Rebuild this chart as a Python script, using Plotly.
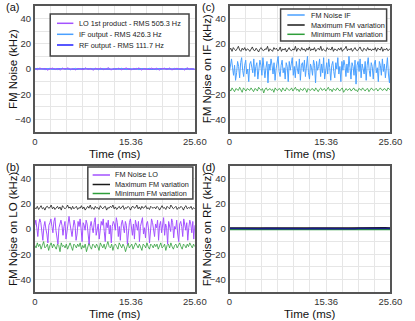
import plotly.graph_objects as go

# ---------------- data ----------------
N = 160
t_ms = [i * 25.6 / (N - 1) for i in range(N)]
t128 = [i * 25.6 / 127 for i in range(128)]
t64 = [i * 25.6 / 63 for i in range(64)]
t32 = [i * 25.6 / 31 for i in range(32)]

# (a) FM noise (kHz)
a_lo = [0.5, -0.6, 0.8, -0.2, 0.4, -0.9, 0.1, 0.7, -0.5, 0.3, -0.8, 0.6, -0.1, 0.9, -0.4, 0.2,
        -0.7, 0.5, 0.0, -0.6, 0.8, -0.3, 0.4, -0.9, 0.6, -0.2, 0.7, -0.5, 0.1, 0.9, -0.8, 0.3,
        -0.4, 0.6, -0.7, 0.2, 0.8, -0.1, -0.6, 0.5, -0.3, 0.9, -0.8, 0.4, 0.1, -0.5, 0.7, -0.2,
        0.6, -0.9, 0.3, 0.5, -0.4, 0.8, -0.7, 0.0, 0.6, -0.3, 0.4, -0.8, 0.9, -0.1, 0.2, -0.5]
a_if = [-0.3, 0.5, -0.1, 0.4, -0.6, 0.2, 0.6, -0.4, 0.1, -0.5, 0.3, 0.6, -0.2, 0.4, -0.6, 0.0,
        0.5, -0.3, 0.2, -0.5, 0.6, -0.1, 0.3, -0.4, 0.5, -0.6, 0.1, 0.4, -0.2, 0.6, -0.5, 0.2,
        0.3, -0.4, 0.6, -0.1, -0.5, 0.4, 0.0, -0.3, 0.5, -0.6, 0.2, 0.3, -0.4, 0.6, -0.2, 0.1,
        -0.5, 0.4, -0.3, 0.6, -0.1, 0.2, -0.6, 0.5, -0.2, 0.3, -0.4, 0.1, 0.6, -0.5, 0.2, -0.3]
a_rf = [0.1, -0.05, 0.12, -0.1, 0.03, 0.14, -0.08, 0.06, -0.12, 0.09, -0.02, 0.11, -0.14, 0.05, 0.08, -0.06,
        0.13, -0.1, 0.02, -0.09, 0.12, -0.04, 0.07, -0.13, 0.1, -0.03, 0.06, -0.11, 0.14, -0.07, 0.04, -0.08]

# (b) FM noise on LO (kHz)
b_lo = [3, 7, 1, -6, 4, 8, 5, -2, -9, 2, 6, 0, -4, -11, 3, 5,
        8, 2, -3, 6, 9, -1, -7, -12, 1, 4, 7, 3, -5, 2, 6, -8,
        -3, 5, 10, 4, -2, -6, 1, 7, 3, -9, -4, 6, 2, 8, 0, -10,
        5, 3, -1, 7, 4, -7, -12, 2, 6, 1, -3, 5, 9, -5, 2, 4,
        -8, 0, 6, 3, 8, -2, -10, 5, 1, 7, -4, 3, -11, 2, 6, 4,
        -1, 9, 5, -6, 2, -9, 4, 7, 0, -3, 6, 3, -12, 1, 5, 8,
        2, -5, 4, -8, 7, 3, -1, 6, -10, 2, 5, 9, -4, 1, -7, 4,
        6, 0, -11, 3, 8, 5, -2, -6, 4, 1, 7, -9, 3, 6, -3, 2,
        9, -5, 4, 1, -12, 6, 3, -2, 8, 5, -7, 2, 0, 7, -4, -10,
        4, 6, 2, -6, 8, 3, -1, 5, -9, 1, 7, 4, -3, 6, -8, 3]
b_max = [17, 16, 18, 15.5, 17, 18.5, 16, 17, 15, 17.5, 18, 16.5, 17, 19, 16, 17.5,
         15.5, 17, 18, 16, 17.5, 15, 18.5, 17, 16, 17, 19, 16.5, 17.5, 15.5, 18, 16,
         17, 18, 15.5, 17, 16.5, 18.5, 16, 17.5, 15, 17, 18, 16.5, 19, 16, 17, 15.5,
         18, 16.5, 17, 15.5, 18.5, 17, 16, 17.5, 18, 15, 17, 16.5, 18, 17, 19, 16,
         17.5, 15.5, 17, 18, 16, 17, 18.5, 15.5, 17, 16.5, 18, 17, 15, 17.5, 18, 16.5,
         17, 19, 16, 17.5, 15.5, 18, 16.5, 17, 18.5, 16, 17, 15.5, 18, 17, 16.5, 17.5,
         16, 18, 17, 15, 17.5, 18.5, 16.5, 17, 15.5, 18, 17, 16, 19, 17.5, 16, 17,
         18, 15.5, 17, 16.5, 18, 17, 15, 17.5, 18.5, 16, 17, 16.5, 18, 15.5, 17, 16]
b_min = [-13, -15, -11, -14, -12, -16, -13, -10, -15, -14, -12, -17, -13, -11, -15, -12,
         -14, -16, -12, -13, -18, -11, -14, -13, -15, -12, -16, -13, -11, -14, -17, -12,
         -13, -15, -12, -14, -11, -16, -13, -15, -12, -18, -13, -11, -14, -16, -12, -13,
         -15, -12, -14, -17, -11, -13, -15, -12, -16, -13, -10, -14, -15, -12, -17, -13,
         -12, -14, -16, -11, -13, -15, -12, -14, -18, -13, -11, -15, -13, -12, -16, -14,
         -11, -13, -15, -12, -14, -17, -12, -13, -15, -11, -14, -16, -12, -13, -15, -12,
         -14, -12, -16, -13, -11, -15, -14, -12, -17, -13, -12, -15, -11, -14, -16, -13,
         -12, -15, -13, -11, -14, -16, -12, -13, -15, -12, -14, -11, -13, -15, -12, -14]

# (c) FM noise on IF (kHz)
c_if = [-2, 4, 8, 1, -5, 3, -9, -3, 6, 2, -7, 5, 9, -1, -6, 3,
        7, -4, 0, -10, 4, 6, 1, -3, 8, -6, 2, 5, -8, -2, 7, 3,
        -5, 9, 2, -7, 1, 6, -11, 4, -1, 8, 3, -4, 5, -9, 0, 7,
        10, -2, -6, 3, 7, -3, 1, -8, 5, 2, -10, 6, -1, 4, 9, -5,
        2, -7, 6, 0, -4, 8, -9, 3, 5, -2, 7, -6, 1, 10, -3, -8,
        4, 1, -5, 7, 3, -11, 6, -1, 2, 8, -6, 4, -3, 9, -8, 2,
        5, -4, 8, 1, -9, 3, 6, -2, -7, 5, 0, 9, -4, 2, -10, 6,
        -1, 7, 3, -6, 4, -3, 10, 1, -8, 5, 2, -5, 7, -12, 3, 6,
        -2, 8, -7, 4, 1, -4, 6, -9, 3, 9, -1, -6, 5, 2, -8, 4,
        7, -3, 1, -10, 6, 3, -5, 8, -2, 4, -7, 1, 9, -4, -11, 3]
c_max = [15, 16.5, 14, 17, 15.5, 14.5, 16, 18, 15, 14, 16.5, 15, 17, 14.5, 16, 15.5,
         14, 16, 17.5, 15, 14.5, 16.5, 15, 13.5, 16, 17, 15, 14.5, 16, 15.5, 18, 14,
         16, 15, 14, 17, 15.5, 16.5, 14.5, 15, 17.5, 14, 16, 15, 16.5, 13.5, 15.5, 17,
         15, 14.5, 16, 15, 18, 14, 16.5, 15.5, 14.5, 17, 15, 16, 14, 16.5, 15, 17.5,
         14.5, 16, 15, 17, 14, 15.5, 16.5, 15, 18, 14.5, 16, 15, 14, 17, 15.5, 16,
         15, 17.5, 14, 16, 15.5, 14.5, 16.5, 15, 17, 14, 15.5, 16, 18, 14.5, 16, 15,
         16.5, 14, 15.5, 17, 15, 14.5, 16, 17.5, 15, 14, 16.5, 15.5, 14.5, 17, 15, 16,
         14.5, 16, 15, 17, 14, 16.5, 15.5, 15, 17.5, 14, 16, 15, 16.5, 14.5, 15.5, 16]
c_min = [-16, -17.5, -15, -16.5, -18, -15.5, -16, -17, -14.5, -16.5, -18.5, -15, -16, -17.5, -15.5, -16,
         -17, -15, -16.5, -18, -15.5, -16, -17.5, -14.5, -16, -17, -15.5, -19, -16, -15, -17, -16.5,
         -15.5, -17, -16, -18.5, -15, -16.5, -17, -15.5, -16, -18, -15, -16.5, -17.5, -15, -16, -17,
         -16.5, -15, -17.5, -16, -14.5, -17, -16, -18, -15.5, -16.5, -17, -15, -16, -18.5, -15.5, -16.5,
         -17, -15.5, -16, -17.5, -15, -16.5, -18, -16, -15, -17, -16.5, -15.5, -17.5, -16, -14.5, -17,
         -16, -18, -15.5, -16.5, -17, -15, -16, -17.5, -16, -15, -18.5, -16.5, -15.5, -17, -16, -15.5,
         -17.5, -16, -15, -17, -16.5, -18, -15.5, -16, -17, -15, -16.5, -17.5, -16, -15.5, -18, -16,
         -15, -16.5, -17, -16, -15.5, -17.5, -16, -15, -16.5, -17, -15.5, -16, -17.5, -15, -16, -16.5]

# (d) FM noise on RF (kHz)
d_max = [0.8, 0.7, 0.9, 0.8, 0.75, 0.85, 0.8, 0.7, 0.9, 0.8, 0.85, 0.75, 0.8, 0.9, 0.7, 0.8,
         0.85, 0.8, 0.75, 0.9, 0.8, 0.7, 0.85, 0.8, 0.9, 0.75, 0.8, 0.85, 0.7, 0.8, 0.9, 0.8]
d_rf = [0.3, 0.2, 0.4, 0.25, 0.35, 0.3, 0.15, 0.4, 0.3, 0.2, 0.35, 0.3, 0.45, 0.25, 0.3, 0.2,
        0.4, 0.3, 0.25, 0.35, 0.3, 0.15, 0.4, 0.3, 0.2, 0.35, 0.3, 0.4, 0.25, 0.3, 0.2, 0.35]
d_min = [-0.3, -0.35, -0.25, -0.3, -0.4, -0.3, -0.2, -0.35, -0.3, -0.25, -0.4, -0.3, -0.35, -0.25, -0.3, -0.4,
         -0.3, -0.25, -0.35, -0.3, -0.2, -0.35, -0.3, -0.4, -0.25, -0.3, -0.35, -0.3, -0.25, -0.4, -0.3, -0.35]

x_tickvals = [0, 15.36, 25.6]
x_ticktext = ["0", "15.36", "25.60"]
y_tickvals = [-40, -20, 0, 20, 40]

legend_a = ["LO 1st product - RMS 505.3 Hz", "IF output - RMS 426.3 Hz", "RF output - RMS 111.7 Hz"]
legend_b = ["FM Noise LO", "Maximum FM variation", "Minimum FM variation"]
legend_c = ["FM Noise IF", "Maximum FM variation", "Minimum FM variation"]

# ---------------- style ----------------
W, H = 415, 321
C_LO = "#a352ff"
C_IF = "#4aa0ff"
C_RF = "#1f1fff"
C_MAX = "#1a1a1a"
C_MIN = "#2e9e3a"
FONT = "Liberation Sans, Arial, sans-serif"
FRAME = "#555555"
GRID = "#e6e6e6"

def px(x):
    return x / W

def py(y):
    return 1 - y / H

panels = {
    "a": dict(x0=33, x1=199, y0=6, y1=132),
    "c": dict(x0=235, x1=402, y0=6, y1=132),
    "b": dict(x0=33, x1=199, y0=166, y1=292),
    "d": dict(x0=235, x1=402, y0=166, y1=292),
}
axis_ids = {"a": ("x", "y"), "c": ("x2", "y2"), "b": ("x3", "y3"), "d": ("x4", "y4")}

fig = go.Figure()

def add(panel, x, y, color, width=1.0):
    xa, ya = axis_ids[panel]
    fig.add_trace(go.Scatter(x=x, y=y, mode="lines", line=dict(color=color, width=width),
                             xaxis=xa, yaxis=ya, showlegend=False, hoverinfo="skip"))

add("a", t32, a_rf, C_RF, 1.0)
add("a", t64, a_if, C_IF, 1.0)
add("a", t64, a_lo, C_LO, 1.0)

add("b", t128, b_max, C_MAX, 0.8)
add("b", t128, b_min, C_MIN, 0.8)
add("b", t_ms, b_lo, C_LO, 1.0)

add("c", t128, c_max, C_MAX, 0.8)
add("c", t128, c_min, C_MIN, 0.8)
add("c", t_ms, c_if, C_IF, 1.0)

add("d", t32, d_max, C_MAX, 1.5)
add("d", t32, d_min, C_MIN, 1.5)
add("d", t32, d_rf, "#1a1a8a", 1.5)

layout = dict(width=W, height=H, margin=dict(l=0, r=0, t=0, b=0),
              paper_bgcolor="white", plot_bgcolor="white",
              font=dict(family=FONT, size=10, color="#222"), showlegend=False)

for p, (xa, ya) in axis_ids.items():
    g = panels[p]
    xkey = "xaxis" + xa[1:]
    ykey = "yaxis" + ya[1:]
    layout[xkey] = dict(domain=[px(g["x0"]), px(g["x1"])], range=[0, 25.6], anchor=ya,
                        tickvals=x_tickvals, ticktext=x_ticktext, showgrid=True, gridcolor=GRID,
                        gridwidth=1, showline=True, mirror=True, linecolor=FRAME, linewidth=1.5,
                        zeroline=False, ticks="", tickfont=dict(size=9.5, color="#333"),
                        minor=dict(tick0=0, dtick=2.56, showgrid=True, gridcolor=GRID, gridwidth=1))
    layout[ykey] = dict(domain=[py(g["y1"]), py(g["y0"])], range=[-50, 50], anchor=xa,
                        tickvals=y_tickvals, showgrid=True, gridcolor=GRID, gridwidth=1,
                        showline=True, mirror=True, linecolor=FRAME, linewidth=1.5,
                        zeroline=False, ticks="", tickfont=dict(size=9.5, color="#333"),
                        minor=dict(tick0=0, dtick=10, showgrid=True, gridcolor=GRID, gridwidth=1))

fig.update_layout(**layout)

annotations = []
shapes = []

def text(x, y, s, size=11, angle=0, xanchor="center", color="#111"):
    annotations.append(dict(x=px(x), y=py(y), xref="paper", yref="paper", text=s, showarrow=False,
                            textangle=angle, xanchor=xanchor, yanchor="middle", borderpad=0,
                            font=dict(family=FONT, size=size, color=color)))

# panel labels
text(2, 7, "(a)", 11, xanchor="left")
text(205, 7, "(c)", 11, xanchor="left")
text(2, 167, "(b)", 11, xanchor="left")
text(205, 167, "(d)", 11, xanchor="left")

# axis titles
y_titles = {"a": "FM Noise (kHz)", "b": "FM Noise on LO (kHz)", "c": "FM Noise on IF (kHz)", "d": "FM Noise on RF (kHz)"}
for p, g in panels.items():
    text((g["x0"] + g["x1"]) / 2, g["y1"] + 21.5, "Time (ms)", 11.5)
    xt = 10.5 if p in ("a", "b") else 212
    text(xt, (g["y0"] + g["y1"]) / 2, y_titles[p], 11.5, angle=-90)

# legends
def legend(box, line_x, text_x, rows, labels, colors, size=7.3):
    x0, y0, x1, y1 = box
    shapes.append(dict(type="rect", xref="paper", yref="paper", x0=px(x0), x1=px(x1), y0=py(y1), y1=py(y0),
                       line=dict(color="#444", width=1.5), fillcolor="white", layer="above"))
    for r, lab, c in zip(rows, labels, colors):
        shapes.append(dict(type="line", xref="paper", yref="paper", x0=px(line_x[0]), x1=px(line_x[1]),
                           y0=py(r), y1=py(r), line=dict(color=c, width=1.5), layer="above"))
        text(text_x, r, lab, size, xanchor="left", color="#222")

legend((49, 14, 193, 56), (56, 73), 78, [23.3, 34.3, 45], legend_a, [C_LO, C_IF, C_RF])
legend((88, 167, 197, 199), (93, 111), 115, [175, 184.5, 193.5], legend_b, [C_LO, C_MAX, C_MIN])
legend((288, 9, 398, 41), (295, 313), 318, [15, 25, 34.3], legend_c, [C_IF, C_MAX, C_MIN])

fig.update_layout(annotations=annotations, shapes=shapes)
fig.write_html("out.html", config={"displayModeBar": False},
               post_script="document.body.style.margin='0px';document.body.style.padding='0px';")
